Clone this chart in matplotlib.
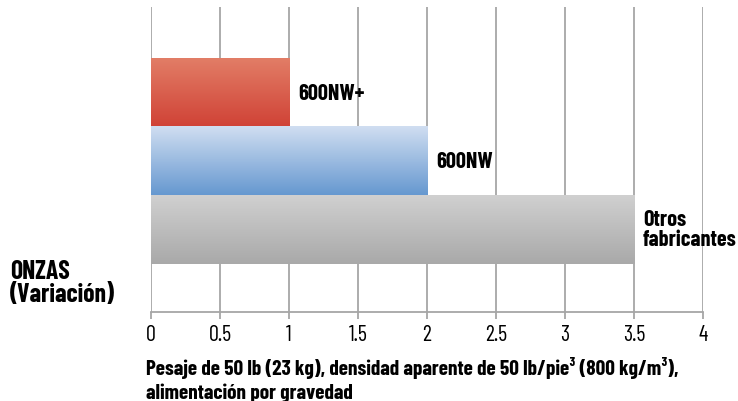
import numpy as np
import matplotlib
matplotlib.use("Agg")
import matplotlib.pyplot as plt
from matplotlib.colors import LinearSegmentedColormap
from matplotlib import font_manager

names = ["600NW+", "600NW", "Otros\nfabricantes"]
values = [1.0, 2.0, 3.5]
grad_top = ["#e27d66", "#d0def1", "#d0d0d0"]
grad_bottom = ["#d04236", "#6698d0", "#a9a9a9"]
x_ticks = [0, 0.5, 1, 1.5, 2, 2.5, 3, 3.5, 4]
y_title = "ONZAS\n(Variación)"
x_title = ("Pesaje de 50 lb (23 kg), densidad aparente de 50 lb/pie³ (800 kg/m³),\n"
           "alimentación por gravedad")

installed = {f.name for f in font_manager.fontManager.ttflist}
narrow = "Barlow Condensed" if "Barlow Condensed" in installed else "DejaVu Sans"
plt.rcParams["font.family"] = [narrow, "DejaVu Sans"]

fig = plt.figure(figsize=(7.38, 4.02), dpi=100)
ax = fig.add_axes([0.2046, 0.2214, 0.748, 0.7586])

ypos = [2, 1, 0]
bars = ax.barh(ypos, values, height=1.0, color="none", edgecolor="none", zorder=3)
for bar, top, bot in zip(bars, grad_top, grad_bottom):
    cmap = LinearSegmentedColormap.from_list("g", [bot, top])
    x0, y0 = bar.get_x(), bar.get_y()
    w, h = bar.get_width(), bar.get_height()
    grad = np.linspace(0, 1, 100).reshape(-1, 1)
    ax.imshow(grad, cmap=cmap, origin="lower", aspect="auto",
              extent=[x0, x0 + w, y0, y0 + h], zorder=3)

for y, v, n in zip(ypos, values, names):
    ax.text(v + 0.065, y, n, va="center", ha="left", fontsize=16,
            fontweight="bold", linespacing=1.0, zorder=4)

ax.set_xlim(0, 4)
ax.set_ylim(-1.21, 3.26)
ax.set_xticks(x_ticks)
ax.set_xticklabels([f"{t:g}" for t in x_ticks], fontsize=16)
ax.set_yticks([])
ax.grid(axis="x", color="#a6a6a6", linewidth=1.3, zorder=0)
for s in ["left", "right", "top"]:
    ax.spines[s].set_visible(False)
ax.spines["bottom"].set_color("#a6a6a6")
ax.spines["bottom"].set_linewidth(1.3)
ax.tick_params(axis="x", length=5, color="#a6a6a6", width=1.3, pad=4)

fig.text(10 / 738, 1 - 260 / 402, y_title, ha="left", va="top",
         fontsize=18.5, fontweight="bold", linespacing=0.95)
fig.text(146 / 738, 1 - 357 / 402, x_title, ha="left", va="top",
         fontsize=15.3, fontweight="bold", linespacing=1.3)

fig.savefig("out.png", dpi=100)
